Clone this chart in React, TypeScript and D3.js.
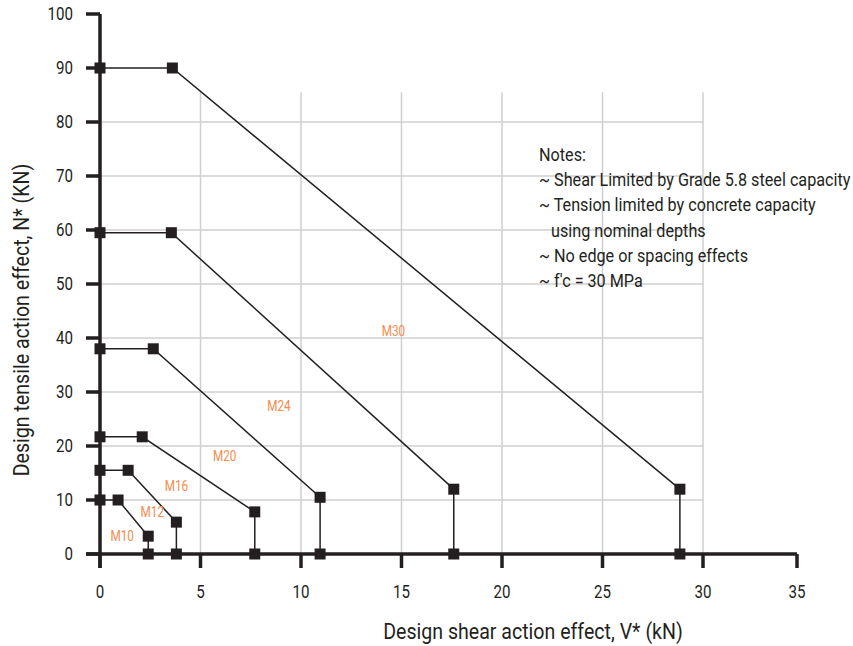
import React from "react";
import * as d3 from "d3";

const seriesNames = ["M10", "M12", "M16", "M20", "M24", "M30"];
const seriesX = [
  [0, 0.9, 2.4, 2.4],
  [0, 1.4, 3.8, 3.8],
  [0, 2.1, 7.7, 7.7],
  [0, 2.65, 10.95, 10.95],
  [0, 3.55, 17.6, 17.6],
  [0, 3.6, 28.85, 28.85],
];
const seriesY = [
  [10, 10, 3.3, 0],
  [15.5, 15.5, 5.9, 0],
  [21.7, 21.7, 7.8, 0],
  [38, 38, 10.5, 0],
  [59.5, 59.5, 12, 0],
  [90, 90, 12, 0],
];
const labelPos = [
  [1.1, 3.3],
  [2.6, 7.8],
  [3.8, 12.6],
  [6.2, 18.2],
  [8.9, 27.4],
  [14.6, 41.3],
];
const xTicks = [0, 5, 10, 15, 20, 25, 30, 35];
const yTicks = [0, 10, 20, 30, 40, 50, 60, 70, 80, 90, 100];
const gridX = [5, 10, 15, 20, 25, 30];
const gridY = [10, 20, 30, 40, 50, 60, 70, 80];
const notes = [
  "Notes:",
  "~ Shear Limited by Grade 5.8 steel capacity",
  "~ Tension limited by concrete capacity",
  "   using nominal depths",
  "~ No edge or spacing effects",
  "~ f'c = 30 MPa",
];

const FONT = "Roboto, 'DejaVu Sans', sans-serif";
const AX = "#231f20";
const ORANGE = "#f58a4b";

type CTProps = {
  x: number; y: number; size: number; anchor?: "start" | "middle" | "end";
  fill?: string; dy?: string; rotate?: number; sx?: number; children: React.ReactNode;
};
function CText({ x, y, size, anchor = "start", fill = AX, dy, rotate = 0, sx = 0.84, children }: CTProps) {
  return (
    <text
      transform={`translate(${x},${y}) rotate(${rotate}) scale(${sx},1)`}
      textAnchor={anchor}
      fontSize={size}
      fill={fill}
      dy={dy}
      style={{ whiteSpace: "pre" }}
    >
      {children}
    </text>
  );
}

export default function App() {
  const W = 853, H = 646;
  const x = d3.scaleLinear().domain([0, 30, 35]).range([100, 703, 797]);
  const y = d3.scaleLinear().domain([0, 100]).range([554, 14]);
  const line = d3.line<[number, number]>().x(d => x(d[0])).y(d => y(d[1]));
  const ms = 11;

  return (
    <svg width={W} height={H} style={{ position: "absolute", left: 0, top: 0, background: "#fff" }} fontFamily={FONT}>
      {gridX.map(v => (
        <line key={"gx" + v} x1={x(v)} x2={x(v)} y1={y(0)} y2={y(85.5)} stroke="#cfcfcf" strokeWidth={1.5} />
      ))}
      {gridY.map(v => (
        <line key={"gy" + v} x1={x(0)} x2={x(30)} y1={y(v)} y2={y(v)} stroke="#cfcfcf" strokeWidth={1.5} />
      ))}
      <line x1={x(0)} x2={x(0)} y1={y(100)} y2={y(0) + 14} stroke={AX} strokeWidth={3.5} />
      <line x1={x(0) - 14} x2={x(35)} y1={y(0)} y2={y(0)} stroke={AX} strokeWidth={3.5} />
      {yTicks.map(v => (
        <g key={"yt" + v}>
          <line x1={x(0) - 14} x2={x(0)} y1={y(v)} y2={y(v)} stroke={AX} strokeWidth={3.5} />
          <CText x={x(0) - 27} y={y(v)} dy="0.35em" anchor="end" size={18}>{v}</CText>
        </g>
      ))}
      {xTicks.map(v => (
        <g key={"xt" + v}>
          <line x1={x(v)} x2={x(v)} y1={y(0)} y2={y(0) + 14} stroke={AX} strokeWidth={3.5} />
          <CText x={x(v)} y={y(0) + 44} anchor="middle" size={18}>{v}</CText>
        </g>
      ))}
      {seriesNames.map((name, i) => {
        const pts: [number, number][] = seriesX[i].map((vx, j) => [vx, seriesY[i][j]]);
        return (
          <g key={name}>
            <path d={line(pts) || ""} fill="none" stroke={AX} strokeWidth={1.5} />
            {pts.map((p, j) => (
              <rect key={j} x={x(p[0]) - ms / 2} y={y(p[1]) - ms / 2} width={ms} height={ms} fill={AX} />
            ))}
            <CText x={x(labelPos[i][0])} y={y(labelPos[i][1])} dy="0.35em" anchor="middle" size={14} fill={ORANGE}>{name}</CText>
          </g>
        );
      })}
      {notes.map((t, i) => (
        <CText key={i} x={539} y={161 + i * 25.2} size={18} sx={0.9}>{t}</CText>
      ))}
      <CText x={533} y={639} anchor="middle" size={22} sx={0.89}>Design shear action effect, V* (kN)</CText>
      <CText x={29} y={320} anchor="middle" size={22} sx={0.89} rotate={-90}>Design tensile action effect, N* (KN)</CText>
    </svg>
  );
}
